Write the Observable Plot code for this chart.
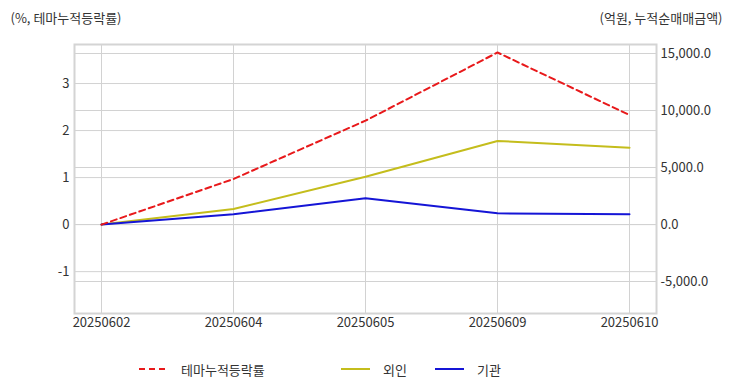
<!DOCTYPE html>
<html><head><meta charset="utf-8">
<script src="https://cdn.jsdelivr.net/npm/d3@7"></script>
<script src="https://cdn.jsdelivr.net/npm/@observablehq/plot@0.6"></script>
<style>
body{margin:0;background:#fff;font-family:"Noto Sans CJK KR","Noto Sans",sans-serif;}
#wrap{position:relative;width:732px;height:392px;}
.legend{position:absolute;top:340px;left:0;width:732px;height:52px;font-size:13px;color:#333;}
.item{position:absolute;top:19px;display:flex;align-items:center;height:20px;}
.item svg{margin-right:13px;}
</style></head><body>
<div id="wrap"></div>
<script>
const dates = ["20250602","20250604","20250605","20250609","20250610"];
const themeRate = [0, 0.97, 2.21, 3.66, 2.33];
const foreign = [0, 1360, 4190, 7325, 6740];
const institution = [0, 895, 2300, 980, 895];
const leftTicks = [-1, 0, 1, 2, 3];
const rightTicks = [-5000, 0, 5000, 10000, 15000];
const leftDomain = [-1.89, 3.83];
const rightDomain = [-7807, 15789];
const seriesNames = ["테마누적등락률", "외인", "기관"];
const seriesColors = ["#e8191b", "#c4bd1c", "#1515d6"];

const toL = r => leftDomain[0] + (r - rightDomain[0]) / (rightDomain[1] - rightDomain[0]) * (leftDomain[1] - leftDomain[0]);
const fromL = l => rightDomain[0] + (l - leftDomain[0]) / (leftDomain[1] - leftDomain[0]) * (rightDomain[1] - rightDomain[0]);
const locale = d3.formatLocale({decimal: ".", thousands: ",", grouping: [3], currency: ["", ""], minus: "-"});
const fmtR = locale.format(",.1f");
const fmtL = locale.format("d");

const themeData = dates.map((d, i) => ({date: d, v: themeRate[i]}));
const foreignData = dates.map((d, i) => ({date: d, v: toL(foreign[i])}));
const instData = dates.map((d, i) => ({date: d, v: toL(institution[i])}));
const gridColor = "#d2d2d2";
const font = "Noto Sans CJK KR";
const fs = 13;

const chart = Plot.plot({
  width: 732, height: 340,
  marginLeft: 74, marginRight: 76, marginTop: 44, marginBottom: 27,
  style: {fontFamily: font, fontSize: fs + "px", color: "#333", background: "#fff", overflow: "visible"},
  x: {type: "point", domain: dates, padding: 0.2},
  y: {domain: leftDomain},
  marks: [
    Plot.gridX(dates, {stroke: gridColor, strokeOpacity: 1}),
    Plot.gridY(leftTicks, {stroke: gridColor, strokeOpacity: 1}),
    Plot.gridY(rightTicks.map(toL), {stroke: gridColor, strokeOpacity: 1}),
    Plot.frame({stroke: "#d4d4d4", strokeWidth: 2}),
    Plot.axisX(dates, {tickSize: 0, tickPadding: 4, label: null, fontSize: fs, fill: "#333"}),
    Plot.axisY(leftTicks, {anchor: "left", tickSize: 0, tickPadding: 5, label: null, fontSize: fs, fill: "#333", tickFormat: fmtL}),
    Plot.axisY(rightTicks.map(toL), {anchor: "right", tickSize: 0, tickPadding: 4, label: null, fontSize: fs, fill: "#333",
      tickFormat: d => fmtR(Math.round(fromL(d) / 1000) * 1000)}),
    Plot.line(foreignData, {x: "date", y: "v", stroke: seriesColors[1], strokeWidth: 2}),
    Plot.line(instData, {x: "date", y: "v", stroke: seriesColors[2], strokeWidth: 2}),
    Plot.line(themeData, {x: "date", y: "v", stroke: seriesColors[0], strokeWidth: 2, strokeDasharray: "6,4"}),
    Plot.text(["(%, 테마누적등락률)"], {frameAnchor: "top-left", dx: -64, dy: -31, textAnchor: "start", fontSize: fs, fill: "#333"}),
    Plot.text(["(억원, 누적순매매금액)"], {frameAnchor: "top-right", dx: 66, dy: -31, textAnchor: "end", fontSize: fs, fill: "#333"})
  ]
});
const wrap = document.getElementById("wrap");
wrap.appendChild(chart);

const legend = document.createElement("div");
legend.className = "legend";
const lefts = [139, 341, 435];
seriesNames.forEach((name, i) => {
  const it = document.createElement("div");
  it.className = "item";
  it.style.left = lefts[i] + "px";
  const dash = i === 0 ? ' stroke-dasharray="6,4"' : '';
  it.innerHTML = `<svg width="29" height="4"><line x1="0" y1="2" x2="29" y2="2" stroke="${seriesColors[i]}" stroke-width="2"${dash}/></svg><span>${name}</span>`;
  legend.appendChild(it);
});
wrap.appendChild(legend);
</script>
</body></html>
